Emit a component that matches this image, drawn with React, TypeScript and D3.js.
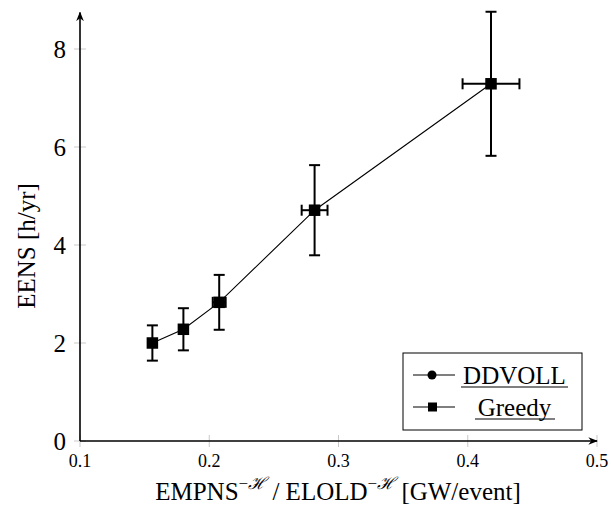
import * as d3 from 'd3'

const W = 611
const H = 518

// Greedy results (DDVOLL coincides with it)
const xValues = [0.156, 0.18, 0.2077, 0.2815, 0.418]
const yValues = [2.0, 2.28, 2.83, 4.71, 7.29]
const yErrors = [0.36, 0.43, 0.56, 0.92, 1.47]
const xErrors = [0, 0, 0.005, 0.01, 0.022]

const xTicks = [0.1, 0.2, 0.3, 0.4, 0.5]
const yTicks = [0, 2, 4, 6, 8]
const seriesNames = ['DDVOLL', 'Greedy']

const serif = { fontFamily: "'Liberation Serif', 'Times New Roman', Times, serif" }

export default function App() {
  const x = d3.scaleLinear().domain([0.1, 0.5]).range([80, 597])
  const y = d3.scaleLinear().domain([0, 8]).range([441, 49])
  const yTop = 12.5

  const pts = xValues.map((v, i) => ({
    x: v,
    y: yValues[i],
    ey: yErrors[i],
    ex: xErrors[i],
  }))

  const line = d3
    .line<{ x: number; y: number }>()
    .x((d) => x(d.x))
    .y((d) => y(d.y))

  const cap = 5.5
  const sq = 11.5

  return (
    <svg
      width={W}
      height={H}
      style={{ position: 'absolute', left: 0, top: 0, background: '#fff' }}
    >
      <defs>
        <marker
          id="arr"
          viewBox="0 0 10 10"
          refX="9"
          refY="5"
          markerWidth="6"
          markerHeight="6"
          orient="auto"
        >
          <path d="M0,1 L10,5 L0,9 L3,5 Z" fill="#000" />
        </marker>
      </defs>

      {/* ticks */}
      {yTicks.map((t) => (
        <g key={'y' + t}>
          <line x1={74} x2={86} y1={y(t)} y2={y(t)} stroke="#bbb" strokeWidth={0.8} />
          <text x={66} y={y(t) + 8.5} textAnchor="end" fontSize={25} style={serif}>
            {t}
          </text>
        </g>
      ))}
      {xTicks.map((t) => (
        <g key={'x' + t}>
          <line x1={x(t)} x2={x(t)} y1={435} y2={447} stroke="#bbb" strokeWidth={0.8} />
          <text x={x(t)} y={467} textAnchor="middle" fontSize={18} style={serif}>
            {t}
          </text>
        </g>
      ))}

      {/* axes */}
      <line
        x1={80}
        y1={y(0)}
        x2={80}
        y2={yTop}
        stroke="#000"
        strokeWidth={1.6}
        markerEnd="url(#arr)"
      />
      <line
        x1={80}
        y1={y(0)}
        x2={x(0.5)}
        y2={y(0)}
        stroke="#000"
        strokeWidth={1.6}
        markerEnd="url(#arr)"
      />

      {/* data line */}
      <path d={line(pts) || ''} fill="none" stroke="#000" strokeWidth={1.1} />

      {/* error bars */}
      {pts.map((p, i) => (
        <g key={'e' + i} stroke="#000" strokeWidth={2}>
          <line x1={x(p.x)} x2={x(p.x)} y1={y(p.y - p.ey)} y2={y(p.y + p.ey)} />
          <line x1={x(p.x) - cap} x2={x(p.x) + cap} y1={y(p.y - p.ey)} y2={y(p.y - p.ey)} />
          <line x1={x(p.x) - cap} x2={x(p.x) + cap} y1={y(p.y + p.ey)} y2={y(p.y + p.ey)} />
          {p.ex > 0 && (
            <>
              <line x1={x(p.x - p.ex)} x2={x(p.x + p.ex)} y1={y(p.y)} y2={y(p.y)} />
              <line x1={x(p.x - p.ex)} x2={x(p.x - p.ex)} y1={y(p.y) - cap} y2={y(p.y) + cap} />
              <line x1={x(p.x + p.ex)} x2={x(p.x + p.ex)} y1={y(p.y) - cap} y2={y(p.y) + cap} />
            </>
          )}
        </g>
      ))}

      {/* DDVOLL markers (hidden under Greedy) */}
      {pts.map((p, i) => (
        <circle key={'c' + i} cx={x(p.x)} cy={y(p.y)} r={5} fill="#000" />
      ))}
      {/* Greedy markers */}
      {pts.map((p, i) => (
        <rect
          key={'s' + i}
          x={x(p.x) - sq / 2}
          y={y(p.y) - sq / 2}
          width={sq}
          height={sq}
          fill="#000"
        />
      ))}

      {/* legend */}
      <g>
        <rect x={403} y={353} width={179} height={77} fill="#fff" stroke="#000" strokeWidth={1} />
        {seriesNames.map((name, i) => {
          const ly = 375 + i * 32
          return (
            <g key={name}>
              <line x1={413} x2={455} y1={ly} y2={ly} stroke="#000" strokeWidth={1.2} />
              {i === 0 ? (
                <circle cx={432} cy={ly} r={4.5} fill="#000" />
              ) : (
                <rect x={428} y={ly - 4.5} width={9} height={9} fill="#000" />
              )}
              <text x={514.5} y={ly + 8.5} textAnchor="middle" fontSize={25} style={serif}>
                {name}
              </text>
              <line
                x1={i === 0 ? 461 : 475}
                x2={i === 0 ? 568 : 555}
                y1={ly + 12}
                y2={ly + 12}
                stroke="#000"
                strokeWidth={1.2}
              />
            </g>
          )
        })}
      </g>

      {/* axis labels */}
      <text
        transform="translate(35,246) rotate(-90)"
        textAnchor="middle"
        fontSize={25}
        style={serif}
      >
        EENS [h/yr]
      </text>
      <text x={338} y={500} textAnchor="middle" fontSize={25} style={serif}>
        EMPNS
        <tspan dy={-11} fontSize={17}>
          −<tspan fontStyle="italic">ℋ</tspan>
        </tspan>
        <tspan dy={11}> / ELOLD</tspan>
        <tspan dy={-11} fontSize={17}>
          −<tspan fontStyle="italic">ℋ</tspan>
        </tspan>
        <tspan dy={11}> [GW/event]</tspan>
      </text>
    </svg>
  )
}
